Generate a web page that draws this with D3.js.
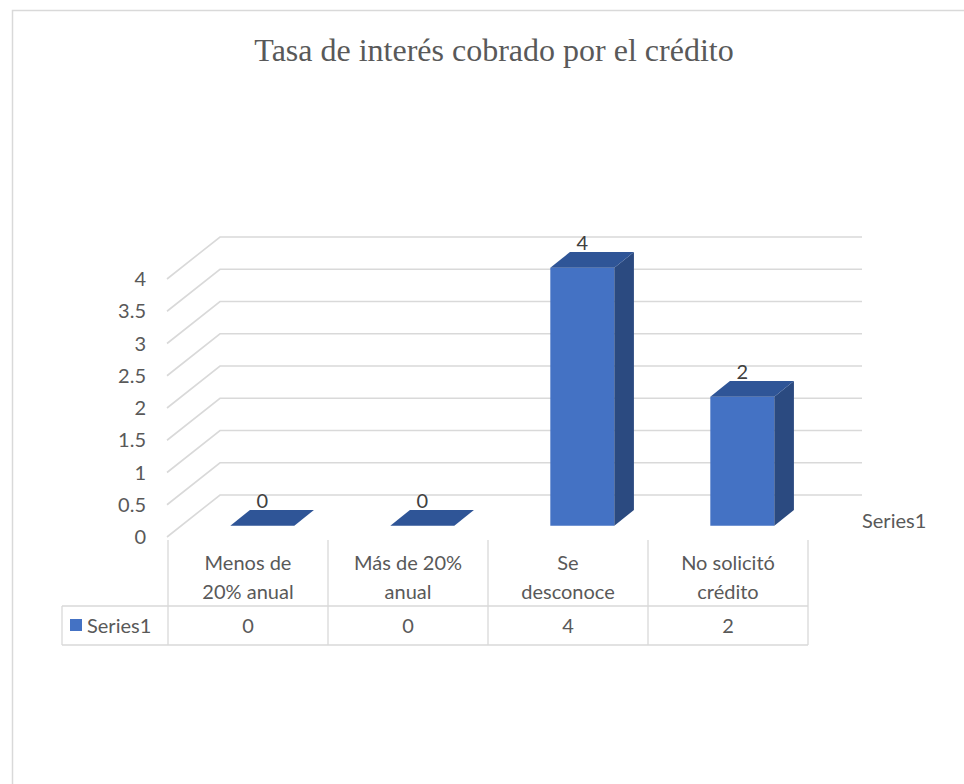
<!DOCTYPE html>
<html><head><meta charset="utf-8">
<script src="https://cdn.jsdelivr.net/npm/d3@7"></script>
<style>body{margin:0;background:#fff}svg{display:block}</style>
</head><body>
<script>
const title = "Tasa de interés cobrado por el crédito";
const categories = [["Menos de","20% anual"],["Más de 20%","anual"],["Se","desconoce"],["No solicitó","crédito"]];
const categoryKeys = ["Menos de 20% anual","Más de 20% anual","Se desconoce","No solicitó crédito"];
const seriesName = "Series1";
const values = [0, 0, 4, 2];
const yTicks = [0, 0.5, 1, 1.5, 2, 2.5, 3, 3.5, 4];

const W = 964, H = 784;
const svg = d3.select("body").append("svg").attr("width", W).attr("height", H);
const font = "Lato, 'Open Sans', sans-serif";
const txt = "#595959";
const fs = 20;

svg.append("rect").attr("x",12.5).attr("y",10.5).attr("width",1000).attr("height",900)
  .attr("fill","#fff").attr("stroke","#d9d9d9").attr("stroke-width",1.5);

svg.append("text").attr("x",494).attr("y",61).attr("text-anchor","middle")
  .attr("font-family","'Liberation Serif', 'Times New Roman', serif").attr("font-size",32)
  .attr("fill",txt).text(title);

// scales (front plane)
const x = d3.scaleBand().domain(categoryKeys).range([168, 808]);
const y = d3.scaleLinear().domain([0, 4]).range([537, 279]);
const DX = 53, DY = -42; // depth offset of back wall
const P = (px, py, d) => [px + DX*d, py + DY*d];

// gridlines: diagonal on left side + horizontal on back wall
const grid = svg.append("g").attr("stroke","#d9d9d9").attr("stroke-width",1.6).attr("fill","none");
yTicks.forEach(t => {
  const f = P(167, y(t), 0), b = P(167, y(t), 1);
  grid.append("path").attr("d", d3.line()([f, b, [862, b[1]]]));
});

// y axis labels
svg.append("g").selectAll("text").data(yTicks).join("text")
  .attr("x",146).attr("y",d=>y(d)).attr("dy","0.35em").attr("text-anchor","end")
  .attr("font-family",font).attr("font-size",fs).attr("fill",txt).text(d=>d);

// bars
const d0 = 0.27, d1 = 0.64, bw = x.bandwidth()*0.4;
const cFront = "#4472C4", cSide = "#2B4A80", cTop = "#2F5597";
const bars = svg.append("g");
categoryKeys.forEach((k, i) => {
  const v = values[i];
  const cx = x(k) + x.bandwidth()/2;
  const xl = cx - bw/2, xr = cx + bw/2;
  const yb = y(0), yt = y(v);
  const line = d3.line();
  const fl = P(xl, yt, d0), fr = P(xr, yt, d0), bl = P(xl, yt, d1), br = P(xr, yt, d1);
  const flb = P(xl, yb, d0), frb = P(xr, yb, d0), brb = P(xr, yb, d1);
  if (v > 0) {
    bars.append("path").attr("d", line([fl, fr, frb, flb]) + "Z").attr("fill", cFront);
    bars.append("path").attr("d", line([fr, br, brb, frb]) + "Z").attr("fill", cSide);
  }
  bars.append("path").attr("d", line([fl, bl, br, fr]) + "Z").attr("fill", cTop);
  // label
  const lc = P(cx, yt, d0);
  svg.append("text").attr("x", lc[0]).attr("y", bl[1] - 2).attr("text-anchor","middle")
    .attr("font-family",font).attr("font-size",fs).attr("fill","#404040").text(v);
});

// depth axis label
svg.append("text").attr("x",862).attr("y",528).attr("font-family",font).attr("font-size",fs)
  .attr("fill",txt).text(seriesName);

// data table
const tb = svg.append("g").attr("stroke","#d9d9d9").attr("stroke-width",1.3);
const rowTop = 540, rowMid = 606, rowBot = 645, leftX = 62;
[x(categoryKeys[0]), ...categoryKeys.map(k => x(k) + x.bandwidth())].forEach(px => {
  tb.append("line").attr("x1",px).attr("x2",px).attr("y1",rowTop).attr("y2",rowBot);
});
tb.append("line").attr("x1",leftX).attr("x2",808).attr("y1",rowMid).attr("y2",rowMid);
tb.append("line").attr("x1",leftX).attr("x2",808).attr("y1",rowBot).attr("y2",rowBot);
tb.append("line").attr("x1",leftX).attr("x2",leftX).attr("y1",rowMid).attr("y2",rowBot);

categoryKeys.forEach((k, i) => {
  const cx = x(k) + x.bandwidth()/2;
  const t = svg.append("text").attr("text-anchor","middle").attr("font-family",font)
    .attr("font-size",fs).attr("fill",txt);
  categories[i].forEach((ln, j) => t.append("tspan").attr("x",cx).attr("y",570 + j*29).text(ln));
  svg.append("text").attr("x",cx).attr("y",633).attr("text-anchor","middle").attr("font-family",font)
    .attr("font-size",fs).attr("fill",txt).text(values[i]);
});
svg.append("rect").attr("x",70).attr("y",619).attr("width",12).attr("height",12).attr("fill",cFront);
svg.append("text").attr("x",87).attr("y",633).attr("font-family",font).attr("font-size",fs)
  .attr("fill",txt).text(seriesName);
</script>
</body></html>
